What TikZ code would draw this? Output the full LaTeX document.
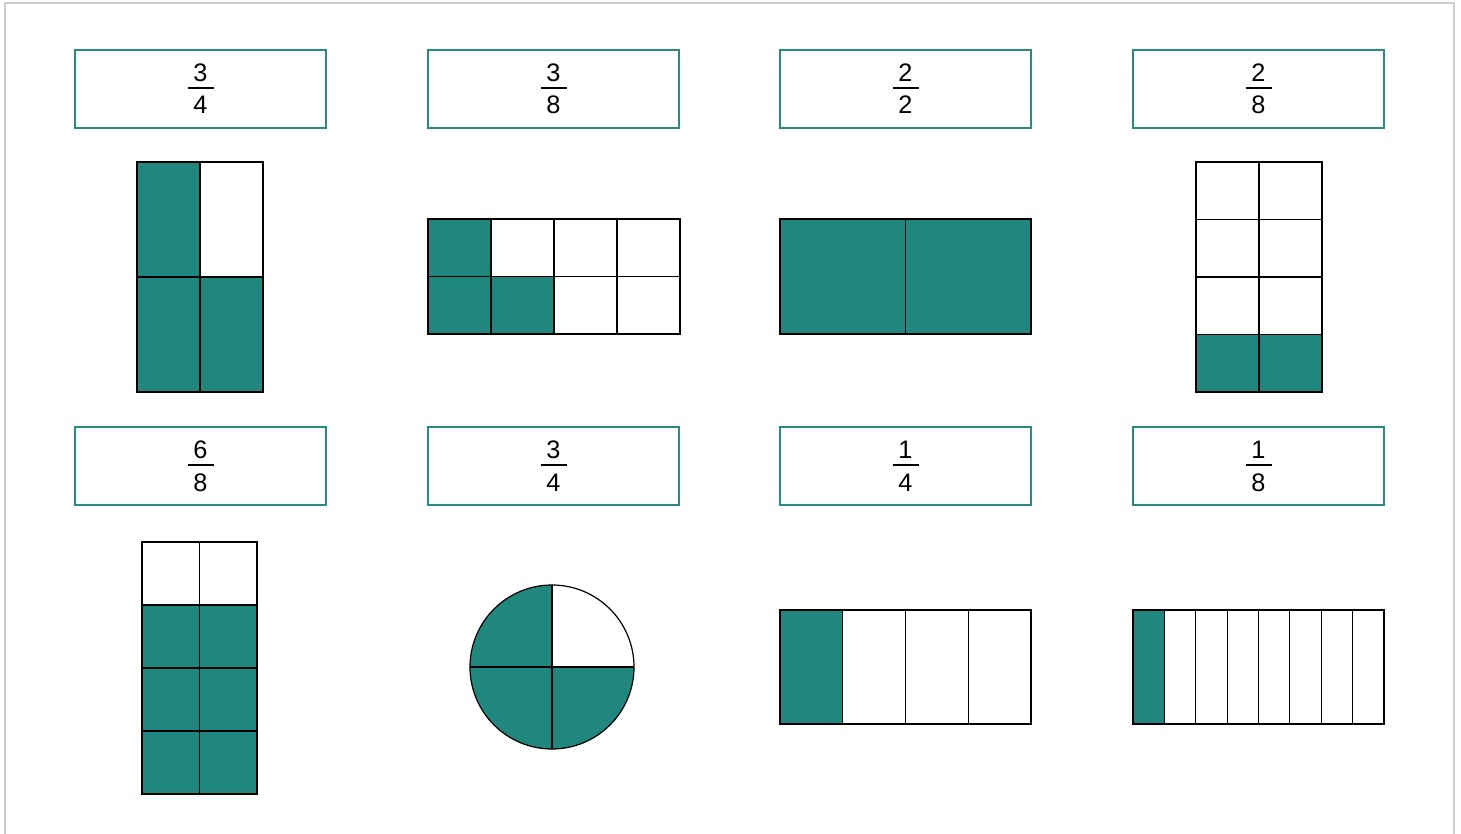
\documentclass[tikz,border=0pt]{standalone}
\usepackage{fontspec}
\setmainfont{Liberation Sans}
\usepackage{tikz}
\usetikzlibrary{positioning}
\definecolor{fracteal}{RGB}{31,135,125}
\definecolor{frameteal}{RGB}{38,140,126}
\definecolor{framegray}{RGB}{204,204,204}

% label box with a stacked fraction inside
\newcommand{\fraclabel}[5]{%
  \node[labelbox] (#1) at (#2,#3) {};
  \node[digit] (#1num) at ([yshift=5.25pt]#1.center) {#4};
  \node[digit] (#1den) at ([yshift=-18.75pt]#1.center) {#5};
  \draw[fracrule] ([xshift=-9.75pt,yshift=0.75pt]#1.center) -- ([xshift=9.75pt,yshift=0.75pt]#1.center);
}

\begin{document}
\begin{tikzpicture}[x=0.75pt,y=-0.75pt,
  labelbox/.style={draw=frameteal,line width=1.5pt,minimum width=188.25pt,minimum height=58.5pt,inner sep=0pt},
  digit/.style={anchor=base,inner sep=0pt,font=\fontsize{19}{22}\selectfont},
  fracrule/.style={line width=0.9pt},
  cell/.style={draw=black,line width=0.9pt}]
  \useasboundingbox (0,0) rectangle (1461,834);

  % ── Frame ──
  \draw[framegray,line width=1.5pt] (5,834) -- (5,3) -- (1454,3) -- (1454,834);

  % ── Labels, top row ──
  \fraclabel{boxA}{200.5}{89}{3}{4}
  \fraclabel{boxB}{553.5}{89}{3}{8}
  \fraclabel{boxC}{905.5}{89}{2}{2}
  \fraclabel{boxD}{1258.5}{89}{2}{8}

  % ── Labels, bottom row ──
  \fraclabel{boxE}{200.5}{466}{6}{8}
  \fraclabel{boxF}{553.5}{466}{3}{4}
  \fraclabel{boxG}{905.5}{466}{1}{4}
  \fraclabel{boxH}{1258.5}{466}{1}{8}

  % ── 3/4: tall 2x2 grid ──
  \foreach \i/\j/\c in {0/0/fracteal,1/0/white,0/1/fracteal,1/1/fracteal}
    \draw[cell,fill=\c] (137+\i*63,162+\j*115) rectangle ++(63,115);

  % ── 3/8: 4x2 grid ──
  \foreach \i/\j/\c in {0/0/fracteal,1/0/white,2/0/white,3/0/white,
                        0/1/fracteal,1/1/fracteal,2/1/white,3/1/white}
    \draw[cell,fill=\c] (428+\i*63,219+\j*57.5) rectangle ++(63,57.5);

  % ── 2/2: two halves ──
  \foreach \i in {0,1}
    \draw[cell,fill=fracteal] (780+\i*125.5,219) rectangle ++(125.5,115);

  % ── 2/8: 2x4 grid ──
  \foreach \i/\j/\c in {0/0/white,1/0/white,0/1/white,1/1/white,
                        0/2/white,1/2/white,0/3/fracteal,1/3/fracteal}
    \draw[cell,fill=\c] (1196+\i*63,162+\j*57.5) rectangle ++(63,57.5);

  % ── 6/8: 2x4 grid ──
  \foreach \i/\j/\c in {0/0/white,1/0/white,0/1/fracteal,1/1/fracteal,
                        0/2/fracteal,1/2/fracteal,0/3/fracteal,1/3/fracteal}
    \draw[cell,fill=\c] (142+\i*57.5,542+\j*63) rectangle ++(57.5,63);

  % ── 3/4: circle in quarters ──
  \fill[fracteal] (552,667) circle[radius=82];
  \fill[white] (552,667) -- ++(82,0) arc[start angle=0,end angle=-90,radius=82] -- cycle;
  \draw[cell] (552,667) circle[radius=82];
  \draw[cell] (470,667) -- (634,667);
  \draw[cell] (552,585) -- (552,749);

  % ── 1/4: four strips ──
  \foreach \i/\c in {0/fracteal,1/white,2/white,3/white}
    \draw[cell,fill=\c] (780+\i*62.75,610) rectangle ++(62.75,114);

  % ── 1/8: eight strips ──
  \foreach \i/\c in {0/fracteal,1/white,2/white,3/white,4/white,5/white,6/white,7/white}
    \draw[cell,fill=\c] (1133+\i*31.375,610) rectangle ++(31.375,114);
\end{tikzpicture}
\end{document}
